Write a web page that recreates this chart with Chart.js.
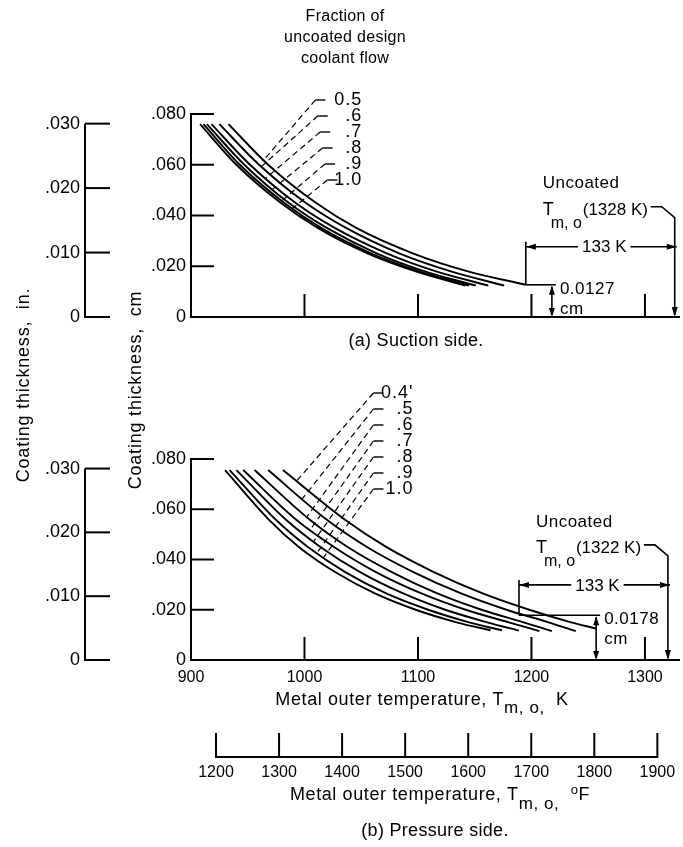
<!DOCTYPE html>
<html lang="en">
<head>
<meta charset="UTF-8">
<title>Coating thickness vs metal outer temperature</title>
<script src="https://cdn.jsdelivr.net/npm/chart.js@4.4.1/dist/chart.umd.min.js"></script>
<style>
  body { margin: 0; background: #fff; }
  .wrap { position: relative; width: 683px; height: 847px; }
  .wrap canvas { position: absolute; left: 0; top: 0; }
</style>
</head>
<body>
<div class="wrap">
  <canvas id="pressure" width="683" height="847"></canvas>
  <canvas id="suction" width="683" height="847"></canvas>
</div>
<script>
// ---- curve data: temperature (K) read at common thickness levels (cm), last value at the curve end ----
const suctionFlows = ['0.5', '.6', '.7', '.8', '.9', '1.0'];
const suctionLevels = [0.076, 0.060, 0.045, 0.035, 0.025, 0.018];
const suctionEndThickness = [0.0127, 0.0124, 0.0124, 0.0124, 0.0124, 0.0124];
const suctionTemps = [
  [933, 968, 1010, 1046, 1096, 1144, 1195],
  [925, 960, 1001, 1037, 1084, 1129, 1176],
  [918, 952, 992, 1027, 1073, 1116, 1162],
  [914, 947, 986, 1020, 1064, 1106, 1151],
  [911, 943, 982, 1015, 1059, 1101, 1145],
  [908, 940, 979, 1012, 1056, 1098, 1142]
];

const pressureFlows = ["0.4'", '.5', '.6', '.7', '.8', '.9', '1.0'];
const pressureLevels = [0.0756, 0.0557, 0.045, 0.035, 0.0265, 0.020, 0.015];
const pressureEndThickness = [0.0125, 0.0115, 0.0115, 0.0115, 0.0117, 0.0118, 0.0118];
const pressureTemps = [
  [981, 1036, 1072, 1114, 1157, 1198, 1235, 1257],
  [968, 1020, 1055, 1096, 1138, 1178, 1215, 1239],
  [956, 1005, 1038, 1077, 1117, 1156, 1193, 1218],
  [946, 993, 1026, 1063, 1103, 1142, 1180, 1207],
  [940, 984, 1014, 1049, 1087, 1124, 1161, 1189],
  [934, 975, 1003, 1036, 1072, 1109, 1145, 1174],
  [930, 969, 995, 1027, 1062, 1098, 1134, 1164]
];

const cmTicks = [0, 0.02, 0.04, 0.06, 0.08];
const inTicks = [0, 0.01, 0.02, 0.03];
const kTicks = [900, 1000, 1100, 1200, 1300];
const fTicks = [1200, 1300, 1400, 1500, 1600, 1700, 1800, 1900];

const suctionUncoated = { tUncoated: 1328, drop: 133, thickness: 0.0127 };
const pressureUncoated = { tUncoated: 1322, drop: 133, thickness: 0.0178 };

// ---- look ----
const REG = '"Liberation Sans", Arial, sans-serif';
const T_MIN = 900, T_MAX = 1330;
const kToF = k => (k - 273.15) * 1.8 + 32;

const fmtFrac = v => v === 0 ? '0' : '.' + String(Math.round(v * 1000)).padStart(3, '0');

function seg(ctx, x1, y1, x2, y2) {
  ctx.beginPath(); ctx.moveTo(x1, y1); ctx.lineTo(x2, y2); ctx.stroke();
}

function arrowHead(ctx, x, y, dir, len = 10, half = 3) {
  const d = { left: [1, 0], right: [-1, 0], up: [0, 1], down: [0, -1] }[dir];
  const bx = x + d[0] * len, by = y + d[1] * len;
  const px = -d[1] * half, py = d[0] * half;
  ctx.beginPath();
  ctx.moveTo(x, y); ctx.lineTo(bx + px, by + py); ctx.lineTo(bx - px, by - py);
  ctx.closePath(); ctx.fill();
}

function text(ctx, s, x, y, font, align = 'left', base = 'alphabetic', spacing = '0px') {
  ctx.font = font; ctx.textAlign = align; ctx.textBaseline = base; ctx.letterSpacing = spacing;
  ctx.fillText(s, x, y);
}

// parts: [string, font, baseline shift]
function rich(ctx, parts, x, y, align = 'left', spacing = '0px') {
  ctx.letterSpacing = spacing; ctx.textAlign = 'left'; ctx.textBaseline = 'alphabetic';
  let w = 0;
  parts.forEach(p => { ctx.font = p[1]; w += ctx.measureText(p[0]).width; });
  let cx = align === 'center' ? x - w / 2 : x;
  parts.forEach(p => { ctx.font = p[1]; ctx.fillText(p[0], cx, y + p[2]); cx += ctx.measureText(p[0]).width; });
}

function thicknessAt(temps, levels, end, t) {
  const pts = temps.map((tt, j) => [tt, j < levels.length ? levels[j] : end]);
  for (let j = 1; j < pts.length; j++) {
    if (t <= pts[j][0]) {
      const [t0, c0] = pts[j - 1], [t1, c1] = pts[j];
      return c0 + (c1 - c0) * (t - t0) / (t1 - t0);
    }
  }
  return end;
}

function curveDatasets(temps, levels, ends) {
  return temps.map((row, i) => ({
    data: row.map((t, j) => ({ x: t, y: j < levels.length ? levels[j] : ends[i] })),
    borderColor: '#000',
    borderWidth: 1.9,
    pointRadius: 0,
    fill: false,
    cubicInterpolationMode: 'monotone'
  }));
}

function cmAxis() {
  return {
    type: 'linear', position: 'left', weight: 0, min: 0, max: 0.08,
    afterBuildTicks: s => { s.ticks = cmTicks.map(v => ({ value: v })); },
    afterFit: s => { s.width = 106; },
    grid: { display: false, drawTicks: false },
    border: { display: true, color: '#000', width: 2 },
    ticks: { color: '#000', font: { family: REG, size: 18 }, padding: 5, callback: fmtFrac }
  };
}

function inchAxis() {
  return {
    type: 'linear', position: 'left', weight: 1, min: 0, max: 0.08 / 2.54,
    afterBuildTicks: s => { s.ticks = inTicks.map(v => ({ value: v })); },
    afterFit: s => { s.width = 85; },
    grid: { display: false, drawTicks: false },
    border: { display: false },
    ticks: { color: '#000', font: { family: REG, size: 18 }, padding: 5, callback: fmtFrac }
  };
}

function tempAxis(extra) {
  return Object.assign({
    type: 'linear', position: 'bottom',
    grid: { display: false, drawTicks: false },
    ticks: {
      color: '#000', font: { family: REG, size: 16 }, maxRotation: 0, autoSkip: false,
      callback: v => String(v)
    }
  }, extra);
}

// axis ticks drawn inward, inch axis, flow labels with dashed leaders, uncoated dimensions
function makeMarks(cfg) {
  return {
    id: 'marks',
    afterDraw(chart) {
      const ctx = chart.ctx;
      const { x, y, yIn } = chart.scales;
      ctx.save();
      ctx.strokeStyle = '#000'; ctx.fillStyle = '#000';

      ctx.lineWidth = 2;
      cmTicks.slice(1).forEach(v => {
        const py = y.getPixelForValue(v);
        seg(ctx, x.left, py, x.left + 23, py);
      });
      kTicks.slice(1).forEach(v => {
        const px = x.getPixelForValue(v);
        seg(ctx, px, y.bottom, px, y.bottom - 23);
      });
      const ix = yIn.right;
      seg(ctx, ix, yIn.getPixelForValue(0) + 1, ix, yIn.getPixelForValue(0.03));
      inTicks.forEach(v => {
        const py = yIn.getPixelForValue(v);
        seg(ctx, ix, py, ix + 25, py);
      });

      // flow fraction labels
      const right = x.getPixelForValue(cfg.labelRightT);
      cfg.flows.forEach((lab, i) => {
        const cy = y.top + cfg.labelTop + i * cfg.labelStep;
        text(ctx, lab, right, cy, `18px ${REG}`, 'right', 'middle', '1px');
        const hx = right - cfg.hookGap + i * cfg.hookShift;
        ctx.lineWidth = 1.4; ctx.setLineDash([]);
        seg(ctx, hx, cy, hx - 10, cy);
        const t = cfg.leaderEndT[i];
        const ex = x.getPixelForValue(t);
        const ey = y.getPixelForValue(thicknessAt(cfg.temps[i], cfg.levels, cfg.ends[i], t));
        ctx.lineWidth = 1.2; ctx.setLineDash([6, 4]);
        seg(ctx, hx - 10, cy, ex, ey);
      });
      ctx.setLineDash([]);

      // uncoated reference temperature and required thickness
      const u = cfg.uncoated;
      const xU = x.getPixelForValue(u.tUncoated);
      const xL = x.getPixelForValue(u.tUncoated - u.drop);
      const yA = y.getPixelForValue(cfg.arrowThickness);
      const yT = y.getPixelForValue(u.thickness);
      const xD = x.getPixelForValue(cfg.dimT);
      const y0 = y.getPixelForValue(0);
      ctx.lineWidth = 1.6;
      seg(ctx, xL, yA - 5, xL, yT);
      seg(ctx, xL, yT, xD + 4, yT);

      const dropLabel = u.drop + ' K';
      ctx.font = `17px ${REG}`; ctx.letterSpacing = '0px';
      const lw = ctx.measureText(dropLabel).width;
      const mid = (xL + xU) / 2 + 3;
      text(ctx, dropLabel, mid, yA + 1, `17px ${REG}`, 'center', 'middle');
      seg(ctx, xL, yA, mid - lw / 2 - 4, yA);
      seg(ctx, mid + lw / 2 + 4, yA, xU, yA);
      arrowHead(ctx, xL, yA, 'left');
      arrowHead(ctx, xU, yA, 'right');

      ctx.beginPath();
      ctx.moveTo(xU - 26, yA - 40); ctx.lineTo(xU - 15, yA - 40);
      ctx.lineTo(xU - 2, yA - 29); ctx.lineTo(xU - 2, y0 - 2);
      ctx.stroke();
      arrowHead(ctx, xU - 2, y0, 'down');

      text(ctx, 'Uncoated', xU - 134, yA - 63, `17px ${REG}`, 'left', 'middle', '0.5px');
      text(ctx, 'T', xU - 134, yA - 32, `18px ${REG}`);
      text(ctx, 'm, o', xU - 126, yA - 19, `16px ${REG}`);
      text(ctx, '(' + u.tUncoated + ' K)', xU - 94, yA - 32, `17px ${REG}`);

      seg(ctx, xD, yT + 2, xD, y0 - 2);
      arrowHead(ctx, xD, yT + 1, 'up', 9, 3);
      arrowHead(ctx, xD, y0, 'down', 9, 3);
      text(ctx, u.thickness.toFixed(4), xD + 8, yT - 4, `17px ${REG}`, 'left', 'top', '0.5px');
      text(ctx, 'cm', xD + 8, yT + 16, `17px ${REG}`, 'left', 'top', '0.5px');

      if (cfg.extra) cfg.extra(ctx, chart);
      ctx.restore();
    }
  };
}

// ---- (a) suction side ----
new Chart(document.getElementById('suction'), {
  type: 'line',
  data: { datasets: curveDatasets(suctionTemps, suctionLevels, suctionEndThickness) },
  options: {
    responsive: false, animation: false, devicePixelRatio: 1,
    layout: { padding: { top: 114, right: 4, bottom: 502, left: 0 } },
    plugins: { legend: { display: false }, tooltip: { enabled: false } },
    scales: {
      x: tempAxis({
        min: T_MIN, max: T_MAX,
        ticks: { display: false },
        border: { display: true, color: '#000', width: 2 },
        afterFit: s => { s.height = 28; }
      }),
      y: cmAxis(),
      yIn: inchAxis()
    }
  },
  plugins: [makeMarks({
    flows: suctionFlows, temps: suctionTemps, levels: suctionLevels, ends: suctionEndThickness,
    labelRightT: 1051, labelTop: -14, labelStep: 16, hookGap: 37, hookShift: 2.4,
    leaderEndT: [964, 962, 966, 972, 980, 988],
    uncoated: suctionUncoated, arrowThickness: 0.0277, dimT: 1218,
    extra(ctx) {
      ['Fraction of', 'uncoated design', 'coolant flow'].forEach((s, i) => {
        text(ctx, s, 345, 21 + i * 21, `16px ${REG}`, 'center', 'alphabetic', '0.3px');
      });
      text(ctx, '(a) Suction side.', 416, 346, `18px ${REG}`, 'center', 'alphabetic', '0.3px');
    }
  })]
});

// ---- (b) pressure side, with the Fahrenheit scale underneath ----
new Chart(document.getElementById('pressure'), {
  type: 'line',
  data: { datasets: curveDatasets(pressureTemps, pressureLevels, pressureEndThickness) },
  options: {
    responsive: false, animation: false, devicePixelRatio: 1,
    layout: { padding: { top: 459, right: 4, bottom: 0, left: 0 } },
    plugins: { legend: { display: false }, tooltip: { enabled: false } },
    scales: {
      x: tempAxis({
        weight: 0, min: T_MIN, max: T_MAX,
        afterBuildTicks: s => { s.ticks = kTicks.map(v => ({ value: v })); },
        afterFit: s => { s.height = 97; },
        border: { display: true, color: '#000', width: 2 },
        ticks: {
          color: '#000', font: { family: REG, size: 16 }, padding: 8, maxRotation: 0, autoSkip: false,
          callback: v => String(v)
        }
      }),
      xF: tempAxis({
        weight: 1, min: kToF(T_MIN), max: kToF(T_MAX),
        afterBuildTicks: s => { s.ticks = fTicks.map(v => ({ value: v })); },
        afterFit: s => { s.height = 90; },
        border: { display: false },
        ticks: {
          color: '#000', font: { family: REG, size: 16 }, padding: 6, maxRotation: 0, autoSkip: false,
          callback: v => String(v)
        }
      }),
      y: cmAxis(),
      yIn: inchAxis()
    }
  },
  plugins: [makeMarks({
    flows: pressureFlows, temps: pressureTemps, levels: pressureLevels, ends: pressureEndThickness,
    labelRightT: 1096, labelTop: -66, labelStep: 16, hookGap: 30, hookShift: 0,
    leaderEndT: [993, 998, 1002, 1005, 1008, 1011, 1014],
    uncoated: pressureUncoated, arrowThickness: 0.0299, dimT: 1257,
    extra(ctx, chart) {
      const xF = chart.scales.xF;
      ctx.lineWidth = 2;
      seg(ctx, xF.getPixelForValue(fTicks[0]), xF.top, xF.getPixelForValue(fTicks[fTicks.length - 1]), xF.top);
      fTicks.forEach(v => {
        const px = xF.getPixelForValue(v);
        seg(ctx, px, xF.top + 1, px, xF.top - 24);
      });

      const body = `18px ${REG}`, sub = `17px ${REG}`;
      rich(ctx, [
        ['Metal outer temperature, T', body, 0],
        ['m, o,', sub, 8],
        ['  K', body, 0]
      ], 422, 705, 'center', '0.6px');
      rich(ctx, [
        ['Metal outer temperature, T', body, 0],
        ['m, o,', sub, 9],
        ['  ', body, 0],
        ['o', `13px ${REG}`, -6],
        ['F', body, 0]
      ], 440, 800, 'center', '0.6px');
      text(ctx, '(b) Pressure side.', 435, 836, `18px ${REG}`, 'center', 'alphabetic', '0.3px');

      ctx.save();
      ctx.translate(29, 385); ctx.rotate(-Math.PI / 2);
      text(ctx, 'Coating thickness,  in.', 0, 0, `18px ${REG}`, 'center', 'alphabetic', '0.8px');
      ctx.restore();
      ctx.save();
      ctx.translate(141, 390); ctx.rotate(-Math.PI / 2);
      text(ctx, 'Coating thickness,  cm', 0, 0, `18px ${REG}`, 'center', 'alphabetic', '0.8px');
      ctx.restore();
    }
  })]
});
</script>
</body>
</html>
